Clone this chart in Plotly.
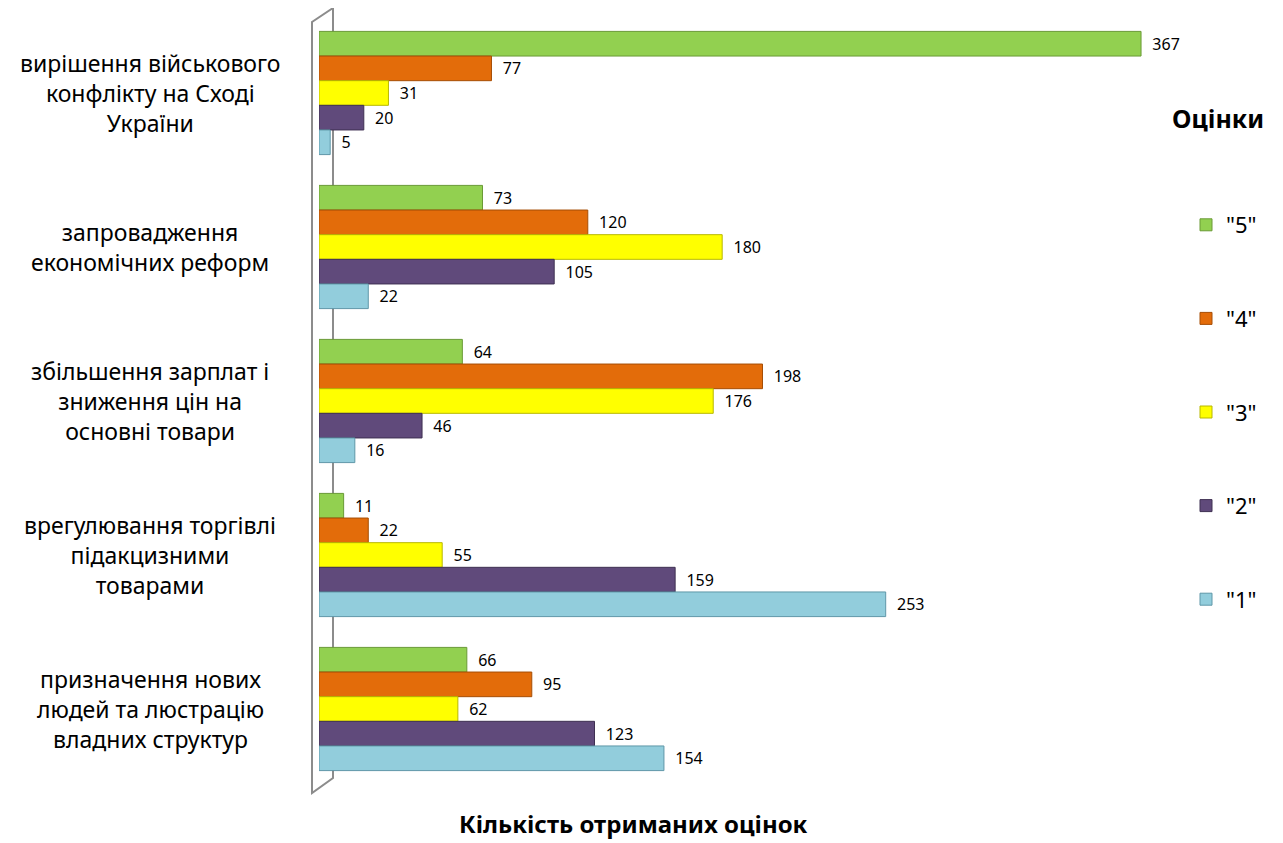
import plotly.graph_objects as go

categories = [
    "вирішення військового<br>конфлікту на Сході<br>України",
    "запровадження<br>економічних реформ",
    "збільшення зарплат і<br>зниження цін на<br>основні товари",
    "врегулювання торгівлі<br>підакцизними<br>товарами",
    "призначення нових<br>людей та люстрацію<br>владних структур",
]
series_names = ['"5"', '"4"', '"3"', '"2"', '"1"']
values_5 = [367, 73, 64, 11, 66]
values_4 = [77, 120, 198, 22, 95]
values_3 = [31, 180, 176, 55, 62]
values_2 = [20, 105, 46, 159, 123]
values_1 = [5, 22, 16, 253, 154]
series_values = [values_5, values_4, values_3, values_2, values_1]
colors = ["#92D050", "#E36C0A", "#FFFF00", "#604A7B", "#92CDDC"]
edge_colors = ["#6A9A36", "#A64E06", "#B8B800", "#3F3052", "#5F97A8"]
x_title = "Кількість отриманих оцінок"
legend_title = "Оцінки"

FONT = "Noto Sans"
OFF = 8  # page body margin
W, H = 1283 - OFF, 843 - OFF
PX_L, PX_T, PW, PH = 319, 16, 831, 770  # plot area in reference pixels
L, T = PX_L - OFF, PX_T - OFF
R = W - L - PW
B = H - T - PH

def px_x(x):
    return (x - PX_L) / PW

def px_y(y):
    return 1 - (y - PX_T) / PH

fig = go.Figure()
for name, vals, c, ec in zip(series_names, series_values, colors, edge_colors):
    fig.add_trace(go.Bar(
        y=list(range(len(categories))), x=vals, orientation="h", name=name,
        legendgroup=name,
        marker=dict(color=c, line=dict(color=ec, width=1)),
        text=["\u00a0\u00a0" + str(v) for v in vals], textposition="outside",
        textfont=dict(family=FONT, size=16, color="#000000"),
        cliponaxis=False,
    ))

annotations = []
for i, cat in enumerate(categories):
    annotations.append(dict(
        x=px_x(150), xref="paper", y=i, yref="y", text=cat, showarrow=False,
        xanchor="center", yanchor="middle", align="center",
        font=dict(family=FONT, size=23, color="#000000"),
    ))
annotations.append(dict(
    x=px_x(633), xref="paper", y=px_y(824), yref="paper", text="<b>" + x_title + "</b>",
    showarrow=False, xanchor="center", yanchor="middle", borderpad=0,
    font=dict(family=FONT, size=24, color="#000000"),
))
annotations.append(dict(
    x=px_x(1218), xref="paper", y=px_y(118), yref="paper", text="<b>" + legend_title + "</b>",
    showarrow=False, xanchor="center", yanchor="middle",
    font=dict(family=FONT, size=25, color="#000000"),
))

wall = dict(color="#8C8C8C", width=2)
shapes = [
    dict(type="path", xref="paper", yref="paper",
         path=f"M {px_x(312)},{px_y(793)} L {px_x(312)},{px_y(22)} L {px_x(333)},{px_y(8)} L {px_x(333)},{px_y(778)} Z",
         line=wall, layer="below"),
]

fig.update_layout(
    width=W, height=H,
    margin=dict(l=L, r=R, t=T, b=B),
    paper_bgcolor="white", plot_bgcolor="white",
    barmode="group", bargap=0.2, bargroupgap=0,
    xaxis=dict(range=[0, 371], showgrid=False, zeroline=False, showticklabels=False,
               showline=False, ticks=""),
    yaxis=dict(range=[4.5, -0.5], showgrid=False, zeroline=False, showticklabels=False,
               showline=False, ticks=""),
    showlegend=True,
    legend=dict(x=px_x(1186), y=px_y(204), xanchor="left", yanchor="top",
                tracegroupgap=62, traceorder="grouped",
                font=dict(family=FONT, size=22, color="#000000"),
                bgcolor="rgba(0,0,0,0)"),
    annotations=annotations,
    shapes=shapes,
    font=dict(family=FONT),
)

fig.write_html("out.html")
